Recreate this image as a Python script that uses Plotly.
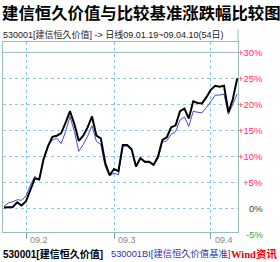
import plotly.graph_objects as go

# ---- data (54 trading days, 2009-01-19 .. 2009-04-10), cumulative change in % ----
fund = [0.2, 0.2, 0.3, 1.2, 0.6, 1.4, 3.5, 5.8, 5.6, 9.5,
        12.0, 13.8, 14.0, 14.5, 16.5, 18.7, 16.2, 13.0, 14.0, 15.6,
        17.7, 14.0, 13.5, 8.8, 6.4, 7.6, 7.2, 12.2, 12.2, 11.4,
        8.1, 9.7, 9.0, 9.0, 8.4, 10.0, 13.2, 13.7, 15.6, 16.0,
        18.7, 19.2, 17.3, 20.6, 20.3, 20.2, 21.4, 22.8, 23.6, 23.4,
        23.6, 18.5, 21.0, 25.0]
bench = [0.4, 1.1, 1.3, 1.7, 1.6, 2.4, 4.5, 6.2, 5.5, 9.6,
         12.0, 13.2, 13.5, 12.5, 14.8, 17.7, 14.8, 11.0, 12.3, 13.9,
         15.9, 12.9, 12.3, 8.1, 6.3, 6.8, 6.5, 12.0, 12.0, 11.2,
         8.0, 9.5, 8.9, 8.8, 8.3, 9.6, 12.8, 13.0, 14.3, 14.8,
         17.0, 17.6, 15.8, 18.7, 18.5, 18.4, 19.4, 20.7, 21.8, 21.8,
         22.0, 18.1, 20.0, 22.0]
days = list(range(len(fund)))

month_tick_idx = [5, 25, 47]
month_tick_text = ["09.2", "09.3", "09.4"]

y_tick_vals = [30, 25, 20, 15, 10, 5, 0, -5]
y_tick_text = ["+30%", "+25%", "+20%", "+15%", "+10%", "+5%", "0%", "-5%"]

title_text = "建信恒久价值与比较基准涨跌幅比较图"
subtitle_text = "530001[建信恒久价值] -> 日线09.01.19~09.04.10(54日)"
legend_fund = "530001[建信恒久价值]"
legend_bench = "530001BI[建信恒久价值基准]"
brand_text = "Wind资讯"

# ---- layout geometry ----
W, H = 280, 262
ML, MR, MT, MB = 3, 42, 42, 30
PW, PH = W - ML - MR, H - MT - MB
YMIN, YMAX = -4.5, 32.0
XMIN, XMAX = -0.23, 53.18


def px_x(p):
    return (p - ML) / PW


def px_y(p):
    return (H - MB - p) / PH


fig = go.Figure()
fig.add_trace(go.Scatter(x=days, y=bench, mode="lines",
                         line=dict(color="#4a4ad0", width=1), hoverinfo="skip"))
fig.add_trace(go.Scatter(x=days, y=fund, mode="lines",
                         line=dict(color="#000000", width=2), hoverinfo="skip"))

grid_col = "#8cc8e6"
frame_col = "#99bcbc"

fig.update_layout(
    width=W, height=H,
    margin=dict(l=ML, r=MR, t=MT, b=MB, pad=0),
    paper_bgcolor="white", plot_bgcolor="white",
    showlegend=False,
    font=dict(family="Liberation Sans, Arial, sans-serif", size=9, color="#333"),
    xaxis=dict(range=[XMIN, XMAX], tickmode="array", tickvals=month_tick_idx,
               ticktext=[""] * len(month_tick_idx), showticklabels=False,
               ticks="outside", ticklen=6, tickcolor="#999", tickwidth=1,
               showgrid=True, gridcolor=grid_col, griddash="dot", gridwidth=1,
               showline=True, linecolor=frame_col, linewidth=1, mirror=True,
               zeroline=False, fixedrange=True),
    yaxis=dict(range=[YMIN, YMAX], tickmode="array", tickvals=[0, 5, 10, 15, 20, 25],
               showticklabels=False, ticks="",
               showgrid=True, gridcolor=grid_col, griddash="dot", gridwidth=1,
               showline=True, linecolor=frame_col, linewidth=1, mirror=True,
               zeroline=False, fixedrange=True),
)

shapes = [
    # solid line at the top (30%) level
    dict(type="line", xref="paper", yref="y", x0=0, x1=1, y0=30, y1=30,
         line=dict(color=frame_col, width=1)),
    # right border extending up into the header
    dict(type="line", xref="paper", yref="paper", x0=1, x1=1, y0=1, y1=px_y(29),
         line=dict(color=frame_col, width=1)),
]
fig.update_layout(shapes=shapes)

ann = []
# title
ann.append(dict(text="<b>" + title_text + "</b>", xref="paper", yref="paper",
                x=px_x(0), y=px_y(12), xanchor="left", yanchor="middle", showarrow=False,
                font=dict(family="Noto Sans CJK SC", size=16.4, color="#000")))
# subtitle
ann.append(dict(text=subtitle_text, xref="paper", yref="paper",
                x=px_x(1), y=px_y(34), xanchor="left", yanchor="middle", showarrow=False,
                font=dict(family="Liberation Sans, Noto Sans CJK SC", size=9, color="#222")))
# right-side y labels
for v, t in zip(y_tick_vals, y_tick_text):
    if v > 0:
        col = "#ff3366"
    elif v == 0:
        col = "#444444"
    else:
        col = "#33aa33"
    ann.append(dict(text=t, xref="paper", yref="paper",
                    x=px_x(265), y=(v - YMIN) / (YMAX - YMIN),
                    xanchor="right", yanchor="middle", showarrow=False,
                    font=dict(family="Liberation Sans", size=9.5, color=col)))
# month labels
for i, t in zip(month_tick_idx, month_tick_text):
    ann.append(dict(text=t, xref="x", yref="paper", x=i, y=px_y(240),
                    xanchor="left", yanchor="middle", xshift=2, showarrow=False,
                    font=dict(family="Liberation Sans", size=9, color="#888")))
# bottom legend
ann.append(dict(text="<b>" + legend_fund + "</b>", xref="paper", yref="paper",
                x=px_x(1), y=px_y(254), xanchor="left", yanchor="middle", showarrow=False,
                font=dict(family="Liberation Sans, Noto Sans CJK SC", size=10, color="#000")))
ann.append(dict(text=legend_bench, xref="paper", yref="paper",
                x=px_x(109), y=px_y(254), xanchor="left", yanchor="middle", showarrow=False,
                font=dict(family="Liberation Sans, Noto Sans CJK SC", size=9.3, color="#3030a8")))
ann.append(dict(text="<b>" + brand_text + "</b>", xref="paper", yref="paper",
                x=px_x(279), y=px_y(254), xanchor="right", yanchor="middle", showarrow=False,
                font=dict(family="Liberation Serif, Noto Sans CJK SC", size=10.5, color="#ee0000")))
fig.update_layout(annotations=ann)

fig.write_html("out.html")
